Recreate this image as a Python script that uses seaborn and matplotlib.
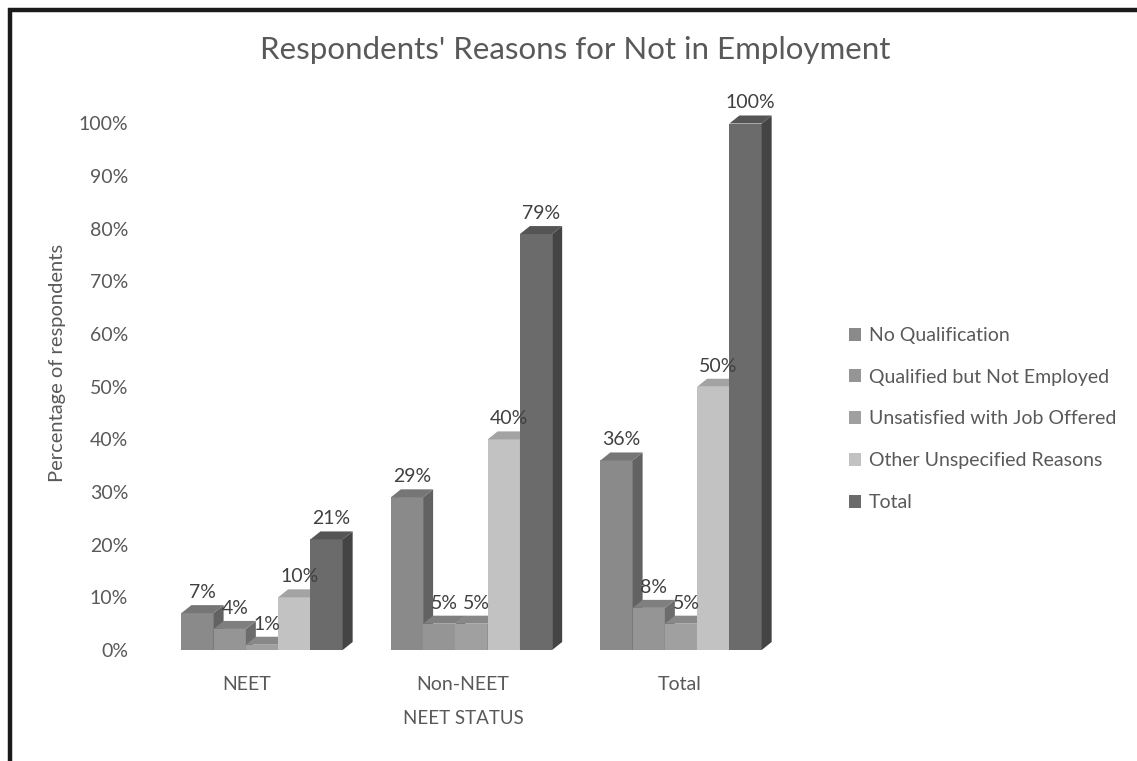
import matplotlib
matplotlib.use("Agg")
import matplotlib.pyplot as plt
from matplotlib.patches import Polygon, Patch
from matplotlib.lines import Line2D
import seaborn as sns
import pandas as pd

# ---- data ----
statuses = ["NEET", "Non-NEET", "Total"]
reasons = ["No Qualification", "Qualified but Not Employed",
           "Unsatisfied with Job Offered", "Other Unspecified Reasons", "Total"]
no_qualification = [7, 29, 36]
qualified_not_employed = [4, 5, 8]
unsatisfied_job = [1, 5, 5]
other_reasons = [10, 40, 50]
total_values = [21, 79, 100]
yticks = [0, 10, 20, 30, 40, 50, 60, 70, 80, 90, 100]

series = [no_qualification, qualified_not_employed, unsatisfied_job, other_reasons, total_values]
rows = []
for r, vals in zip(reasons, series):
    for s, v in zip(statuses, vals):
        rows.append({"status": s, "reason": r, "value": v})
df = pd.DataFrame(rows)

front = ["#8a8a8a", "#959595", "#a0a0a0", "#c2c2c2", "#6b6b6b"]
top = ["#767676", "#7f7f7f", "#888888", "#a3a3a3", "#555555"]
side = ["#626262", "#6c6c6c", "#767676", "#9a9a9a", "#444444"]
TXT = "#595959"

sns.set_theme(style="white")
plt.rcParams["font.family"] = ["Lato", "DejaVu Sans"]

fig = plt.figure(figsize=(11.37, 7.61), dpi=100)
W, H = 1137, 761
left_px, right_px, bot_px, top_px = 157.25, 785.75, 650, 123.5
ax = fig.add_axes([left_px / W, 1 - bot_px / H, (right_px - left_px) / W, (bot_px - top_px) / H])

sns.barplot(data=df, x="status", y="value", hue="reason", hue_order=reasons,
            order=statuses, palette=front, width=0.77, saturation=1,
            ax=ax, legend=False, linewidth=0, errorbar=None)

ax.set_xlim(-0.5, 2.5)
ax.set_ylim(0, 100)

px_x = (right_px - left_px) / 3.0
px_y = (bot_px - top_px) / 100.0
ddx = 10 / px_x
ddy = 8 / px_y

# gather bars with their hue index
bars = []
for hi, cont in enumerate(ax.containers):
    for p in cont.patches:
        bars.append((p.get_x(), hi, p))
bars.sort(key=lambda t: t[0])
for k, (x0, hi, p) in enumerate(bars):
    z = 2 + k * 0.01
    p.set_zorder(z)
    x1 = x0 + p.get_width()
    h = p.get_height()
    topface = Polygon([(x0, h), (x1, h), (x1 + ddx, h + ddy), (x0 + ddx, h + ddy)],
                      closed=True, facecolor=top[hi], edgecolor="none", zorder=z, clip_on=False)
    sideface = Polygon([(x1, 0), (x1 + ddx, ddy), (x1 + ddx, h + ddy), (x1, h)],
                       closed=True, facecolor=side[hi], edgecolor="none", zorder=z, clip_on=False)
    ax.add_patch(sideface)
    ax.add_patch(topface)
    ax.annotate(f"{int(h)}%", xy=(x0 + p.get_width() / 2 + ddx / 2, h + ddy),
                xytext=(0, 3), textcoords="offset points", ha="center", va="bottom",
                fontsize=14, color="#404040", zorder=10, annotation_clip=False)

for s in ax.spines.values():
    s.set_visible(False)
ax.grid(False)
ax.set_yticks(yticks)
ax.set_yticklabels([f"{t}%" for t in yticks], fontsize=14, color=TXT)
# category labels sit slightly left of the bar groups (3D perspective in the original)
ax.set_xticks([-0.072, 0.96, 1.995])
ax.set_xticklabels(statuses)
ax.tick_params(axis="y", length=0, pad=21)
ax.tick_params(axis="x", length=0, pad=19, labelsize=14, labelcolor=TXT)
ax.set_xlabel("NEET STATUS", fontsize=13.5, color=TXT, labelpad=12)
ax.xaxis.set_label_coords((463 - left_px) / (right_px - left_px), -(718 - bot_px) / (bot_px - top_px))
ax.xaxis.label.set_va("center")
ax.set_ylabel("Percentage of respondents", fontsize=14.5, color=TXT)
ax.yaxis.set_label_coords(-(left_px - 57) / (right_px - left_px), (bot_px - 363) / (bot_px - top_px))
ax.yaxis.label.set_va("center")

fig.text(575 / W, 1 - 50 / H, "Respondents' Reasons for Not in Employment",
         ha="center", va="center", fontsize=22.5, color=TXT)

handles = [Patch(facecolor=c, edgecolor="none") for c in front]
fig.legend(handles, reasons, loc="center left", bbox_to_anchor=(831 / W, 1 - 419 / H),
           frameon=False, fontsize=14, labelcolor=TXT, handlelength=0.65, handleheight=0.65,
           handletextpad=0.4, labelspacing=1.27)

# outer frame (top and left)
fig.add_artist(Line2D([8 / W, 1], [1 - 10 / H, 1 - 10 / H], color="#1a1a1a", lw=3.2,
                      transform=fig.transFigure, solid_capstyle="butt"))
fig.add_artist(Line2D([10 / W, 10 / W], [0, 1 - 8 / H], color="#1a1a1a", lw=3.2,
                      transform=fig.transFigure, solid_capstyle="butt"))

fig.savefig("out.png", dpi=100, facecolor="white")
